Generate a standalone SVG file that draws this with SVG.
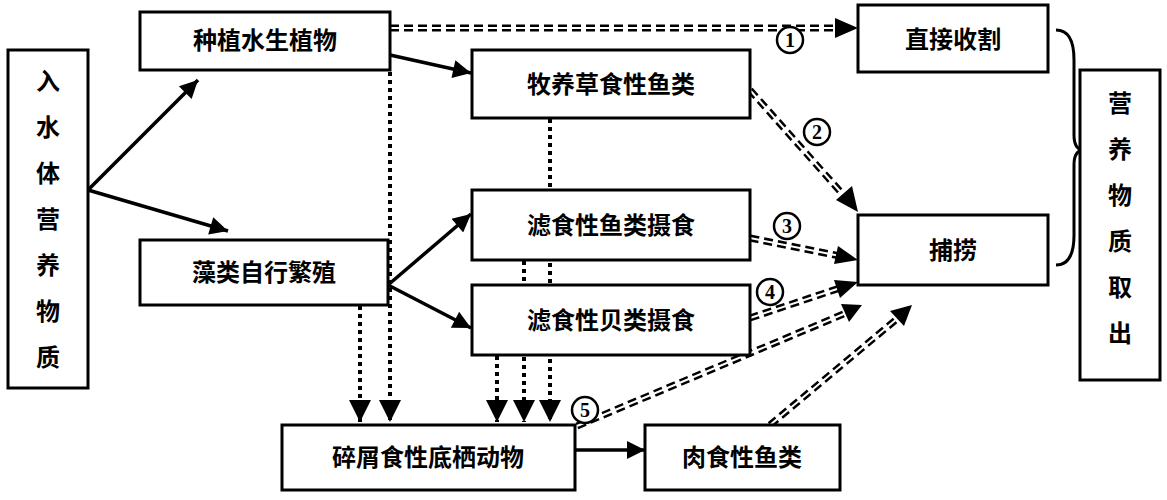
<svg xmlns="http://www.w3.org/2000/svg" width="1167" height="500" viewBox="0 0 1167 500">
<style>
.b{fill:#fff;stroke:#000;stroke-width:3}
.t{font-family:"Noto Sans CJK SC",sans-serif;font-weight:bold;font-size:24px;text-anchor:middle;fill:#000}
.n{font-family:"Liberation Serif",serif;font-weight:bold;font-size:20px;text-anchor:middle;fill:#000}
.c{fill:#fff;stroke:#000;stroke-width:2.5}
.s{stroke:#000;stroke-width:3.5;fill:none}
.dd{stroke:#000;stroke-width:7;stroke-dasharray:9 5;fill:none}
.dw{stroke:#fff;stroke-width:2;fill:none}
.dot{stroke:#000;stroke-width:4;stroke-dasharray:4 4;fill:none}
</style>
<defs>
<marker id="a" viewBox="0 0 10 10" refX="10" refY="5" markerWidth="22" markerHeight="18" markerUnits="userSpaceOnUse" orient="auto"><path d="M0,0L10,5L0,10z"/></marker>
<marker id="A" viewBox="0 0 10 10" refX="10" refY="5" markerWidth="22" markerHeight="22" markerUnits="userSpaceOnUse" orient="auto"><path d="M0,0L10,5L0,10z"/></marker>
</defs>
<rect width="1167" height="500" fill="#fff"/>
<g id="connectors">
<line class="s" x1="88" y1="190" x2="198" y2="80" marker-end="url(#a)"/>
<line class="s" x1="88" y1="190" x2="228" y2="231" marker-end="url(#a)"/>
<line class="s" x1="390" y1="55" x2="471" y2="73" marker-end="url(#a)"/>
<line class="s" x1="388" y1="285" x2="471" y2="214" marker-end="url(#a)"/>
<line class="s" x1="388" y1="285" x2="471" y2="328" marker-end="url(#a)"/>
<line class="s" x1="575" y1="450" x2="645" y2="450" marker-end="url(#a)"/>
<g>
<line class="dot" x1="360" y1="306" x2="360" y2="422" marker-end="url(#A)"/>
<line class="dot" x1="390" y1="72" x2="390" y2="422" marker-end="url(#A)"/>
<line class="dot" x1="497" y1="356" x2="497" y2="422" marker-end="url(#A)"/>
<line class="dot" x1="524" y1="261" x2="524" y2="422" marker-end="url(#A)"/>
<line class="dot" x1="550" y1="119" x2="550" y2="422" marker-end="url(#A)"/>
</g>
<g>
<path class="dd" d="M390,28L840,28"/><path class="dw" d="M390,28L840,28"/><path d="M835,18L858,28L835,38z"/>
<path class="dd" d="M750,90L846,198"/><path class="dw" d="M750,90L846,198"/><polygon points="858,212 836,200 852,186"/>
<path class="dd" d="M750,238L840,256"/><path class="dw" d="M750,238L840,256"/><polygon points="858,260 834,264 838,246"/>
<path class="dd" d="M750,318L840,288"/><path class="dw" d="M750,318L840,288"/><polygon points="858,282 840,298 834,280"/>
<path class="dd" d="M577,426L846,313"/><path class="dw" d="M577,426L846,313"/><polygon points="862,305 849,322 841,304"/>
<path class="dd" d="M770,425L898,318"/><path class="dw" d="M770,425L898,318"/><polygon points="912,305 904,326 890,311"/>
</g>
<circle class="c" cx="790" cy="40" r="13"/><text class="n" x="790" y="47">1</text>
<circle class="c" cx="817" cy="132" r="13"/><text class="n" x="817" y="139">2</text>
<circle class="c" cx="787" cy="226" r="13"/><text class="n" x="787" y="233">3</text>
<circle class="c" cx="770" cy="292" r="13"/><text class="n" x="770" y="299">4</text>
<circle class="c" cx="585" cy="410" r="13"/><text class="n" x="585" y="417">5</text>
<path d="M1056,30 Q1074,30 1074,60 L1074,135 Q1074,150 1084,150 Q1074,150 1074,165 L1074,235 Q1074,265 1056,265" stroke="#000" stroke-width="3" fill="none"/>
</g>
<g id="n1"><rect class="b" x="8" y="50" width="80" height="338"/><text class="t" x="48" y="90">入</text><text class="t" x="48" y="136">水</text><text class="t" x="48" y="182">体</text><text class="t" x="48" y="228">营</text><text class="t" x="48" y="274">养</text><text class="t" x="48" y="320">物</text><text class="t" x="48" y="366">质</text></g>
<g id="n2"><rect class="b" x="140" y="12" width="250" height="58"/><text class="t" x="265" y="49">种植水生植物</text></g>
<g id="n3"><rect class="b" x="140" y="240" width="248" height="65"/><text class="t" x="264" y="281">藻类自行繁殖</text></g>
<g id="n4"><rect class="b" x="472" y="50" width="278" height="68"/><text class="t" x="611" y="93">牧养草食性鱼类</text></g>
<g id="n5"><rect class="b" x="472" y="190" width="278" height="70"/><text class="t" x="611" y="234">滤食性鱼类摄食</text></g>
<g id="n6"><rect class="b" x="472" y="285" width="278" height="70"/><text class="t" x="611" y="329">滤食性贝类摄食</text></g>
<g id="n7"><rect class="b" x="858" y="5" width="190" height="67"/><text class="t" x="953" y="48">直接收割</text></g>
<g id="n8"><rect class="b" x="858" y="215" width="190" height="70"/><text class="t" x="953" y="259">捕捞</text></g>
<g id="n9"><rect class="b" x="1080" y="70" width="80" height="310"/><text class="t" x="1120" y="112">营</text><text class="t" x="1120" y="158">养</text><text class="t" x="1120" y="204">物</text><text class="t" x="1120" y="250">质</text><text class="t" x="1120" y="296">取</text><text class="t" x="1120" y="342">出</text></g>
<g id="n10"><rect class="b" x="282" y="425" width="293" height="65"/><text class="t" x="428" y="466">碎屑食性底栖动物</text></g>
<g id="n11"><rect class="b" x="645" y="425" width="195" height="65"/><text class="t" x="742" y="466">肉食性鱼类</text></g>
</svg>
